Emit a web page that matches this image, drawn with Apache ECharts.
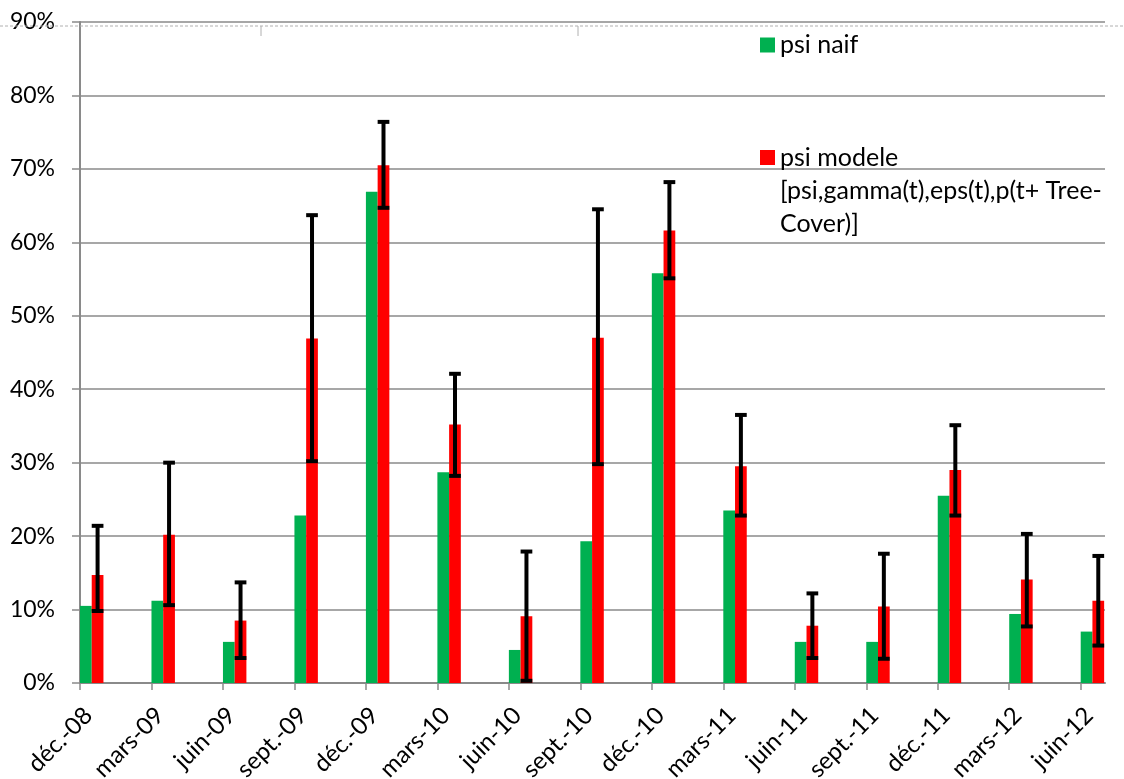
<!DOCTYPE html>
<html>
<head>
<meta charset="utf-8">
<script src="https://cdn.jsdelivr.net/npm/echarts@6/dist/echarts.min.js"></script>
<style>
  html, body { margin: 0; padding: 0; background: #fff; }
  #chart { width: 1124px; height: 779px; }
</style>
</head>
<body>
<div id="chart"></div>
<script>
// ---- Data ----
const CATEGORIES = ['déc.-08','mars-09','juin-09','sept.-09','déc.-09','mars-10','juin-10','sept.-10','déc.-10','mars-11','juin-11','sept.-11','déc.-11','mars-12','juin-12'];
const PSI_NAIF   = [0.105,0.112,0.056,0.228,0.669,0.287,0.045,0.193,0.558,0.235,0.056,0.056,0.255,0.094,0.070];
const PSI_MODELE = [0.147,0.202,0.085,0.469,0.705,0.352,0.091,0.470,0.616,0.295,0.078,0.104,0.290,0.141,0.112];
const ERR_LOW    = [0.098,0.106,0.034,0.302,0.647,0.282,0.003,0.298,0.551,0.228,0.034,0.033,0.228,0.077,0.051];
const ERR_HIGH   = [0.214,0.300,0.137,0.637,0.764,0.421,0.179,0.645,0.682,0.365,0.122,0.176,0.351,0.203,0.173];
const Y_TICKS    = [0,0.1,0.2,0.3,0.4,0.5,0.6,0.7,0.8,0.9];
const NAME_NAIF = 'psi naif';
const NAME_MODELE = 'psi modele';
const MODELE_EXTRA = ['[psi,gamma(t),eps(t),p(t+ Tree-', 'Cover)]'];

const GREEN = '#00B050', RED = '#FF0000';
const FONT = 'Lato';
const BAR_UNIT = 0.164;   // bar width as a fraction of one category step
const GRID_COLOR = '#8a8a8a';

const naifData = PSI_NAIF.map((v, i) => [i, v]);
const modeleData = PSI_MODELE.map((v, i) => [i, v]);
const errData = ERR_LOW.map((v, i) => [i, v, ERR_HIGH[i]]);

function barRenderer(slot) {
  return function (params, api) {
    const i = api.value(0), v = api.value(1);
    const base = api.coord([i, 0]);
    const top = api.coord([i, v]);
    const w = api.size([BAR_UNIT, 0])[0];
    const x = base[0] + slot * w;
    return {
      type: 'rect',
      shape: { x: x, y: top[1], width: w, height: base[1] - top[1] },
      style: { fill: api.visual('color') }
    };
  };
}

function errRenderer(params, api) {
  const i = api.value(0);
  const lo = api.coord([i, api.value(1)]);
  const hi = api.coord([i, api.value(2)]);
  const w = api.size([BAR_UNIT, 0])[0];
  const cx = lo[0] + 1.5 * w;
  const half = w / 2;
  const st = { stroke: '#000', lineWidth: 4 };
  return {
    type: 'group',
    children: [
      { type: 'line', shape: { x1: cx, y1: lo[1], x2: cx, y2: hi[1] }, style: st },
      { type: 'line', shape: { x1: cx - half, y1: lo[1], x2: cx + half, y2: lo[1] }, style: st },
      { type: 'line', shape: { x1: cx - half, y1: hi[1], x2: cx + half, y2: hi[1] }, style: st }
    ]
  };
}

const chart = echarts.init(document.getElementById('chart'), null, { renderer: 'canvas' });

const option = {
  backgroundColor: '#ffffff',
  animation: false,
  textStyle: { fontFamily: FONT },
  grid: { left: 80, right: 19, top: 22, bottom: 96, containLabel: false, outerBoundsMode: 'none' },
  legend: [
    {
      data: [NAME_NAIF],
      left: 760, top: 32.5, padding: 0,
      orient: 'vertical',
      icon: 'rect', itemWidth: 15, itemHeight: 15,
      textStyle: { fontFamily: FONT, fontSize: 25, color: '#000' },
      selectedMode: false
    },
    {
      data: [NAME_MODELE],
      left: 760, top: 75, padding: 0,
      orient: 'vertical',
      icon: 'rect', itemWidth: 15, itemHeight: 15,
      // two leading empty lines keep the icon level with the first text line
      formatter: (name) => ['', '', name].concat(MODELE_EXTRA).join('\n'),
      textStyle: { fontFamily: FONT, fontSize: 25, color: '#000', lineHeight: 33 },
      selectedMode: false
    }
  ],
  xAxis: {
    type: 'value',
    min: 0,
    max: 14.34,
    interval: 1,
    splitLine: { show: false },
    axisLine: { show: true, lineStyle: { color: GRID_COLOR, width: 2 } },
    axisTick: { show: true, length: 7, lineStyle: { color: GRID_COLOR, width: 1.5 } },
    axisLabel: {
      rotate: 45,
      margin: 20,
      align: 'right',
      verticalAlign: 'top',
      fontFamily: FONT, fontSize: 24, color: '#000',
      showMaxLabel: false,
      formatter: (v) => (Number.isInteger(v) && CATEGORIES[v] !== undefined) ? CATEGORIES[v] : ''
    }
  },
  yAxis: {
    type: 'value',
    min: Y_TICKS[0],
    max: Y_TICKS[Y_TICKS.length - 1],
    interval: 0.1,
    splitLine: { show: true, lineStyle: { color: GRID_COLOR, width: 1.5 } },
    axisLine: { show: true, lineStyle: { color: GRID_COLOR, width: 2 } },
    axisTick: { show: true, length: 8, lineStyle: { color: GRID_COLOR, width: 1.5 } },
    axisLabel: {
      margin: 25,
      fontFamily: FONT, fontSize: 23, color: '#000',
      formatter: (v) => Math.round(v * 100) + '%'
    }
  },
  series: [
    {
      name: NAME_NAIF, type: 'custom', renderItem: barRenderer(0),
      itemStyle: { color: GREEN }, data: naifData, encode: { x: 0, y: 1 }, clip: false, z: 2
    },
    {
      name: NAME_MODELE, type: 'custom', renderItem: barRenderer(1),
      itemStyle: { color: RED }, data: modeleData, encode: { x: 0, y: 1 }, clip: false, z: 2
    },
    {
      name: 'err', type: 'custom', renderItem: errRenderer,
      itemStyle: { color: '#000' }, data: errData, encode: { x: 0, y: [1, 2] }, clip: false, z: 3
    }
  ],
  graphic: [
    { type: 'line', silent: true, z: 100, shape: { x1: 0, y1: 26, x2: 1124, y2: 26 }, style: { stroke: '#b0b0b0', lineWidth: 1, lineDash: [3, 2] } },
    { type: 'line', silent: true, z: 100, shape: { x1: 261, y1: 26, x2: 261, y2: 36 }, style: { stroke: '#b0b0b0', lineWidth: 1 } },
    { type: 'line', silent: true, z: 100, shape: { x1: 578, y1: 26, x2: 578, y2: 36 }, style: { stroke: '#b0b0b0', lineWidth: 1 } }
  ]
};

chart.setOption(option);
</script>
</body>
</html>
